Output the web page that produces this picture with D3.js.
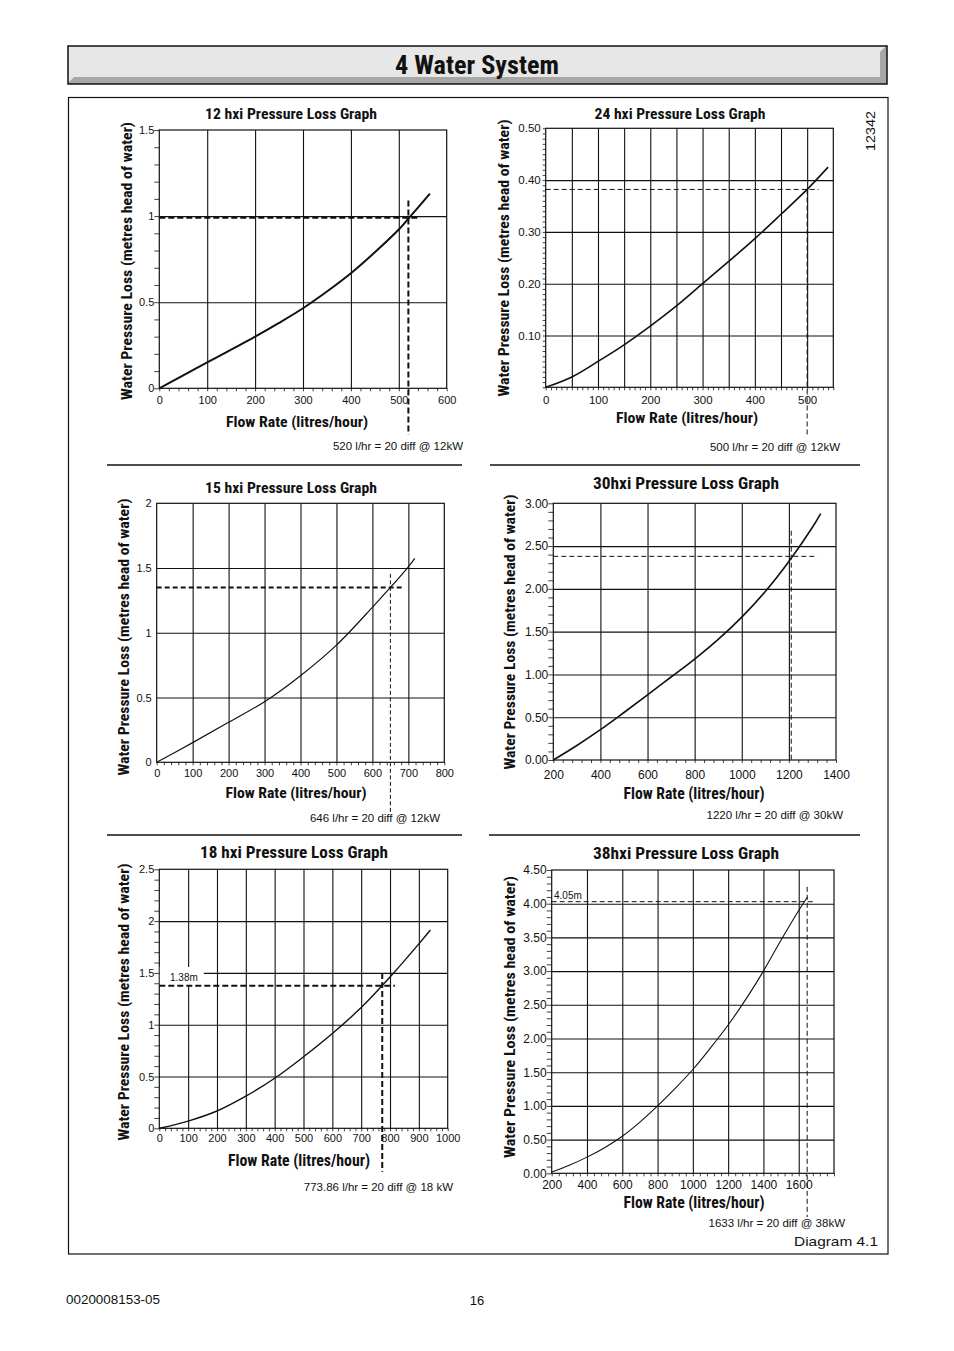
<!DOCTYPE html>
<html><head><meta charset="utf-8">
<script src="https://cdn.jsdelivr.net/npm/d3@7"></script>
<style>body{margin:0;background:#fff} svg{display:block}</style>
</head><body>
<svg id="c" width="954" height="1351"></svg>
<script>
// ---------- DATA ----------
const flow12 = [0, 50, 100, 150, 200, 250, 300, 350, 400, 450, 500, 520, 565];
const loss12 = [0, 0.075, 0.15, 0.225, 0.30, 0.38, 0.465, 0.562, 0.668, 0.79, 0.922, 0.985, 1.13];

const flow24 = [0, 50, 100, 150, 200, 250, 300, 350, 400, 450, 500, 540];
const loss24 = [0, 0.02, 0.05, 0.082, 0.118, 0.157, 0.2, 0.243, 0.287, 0.334, 0.382, 0.425];

const flow15 = [0, 100, 200, 300, 400, 500, 600, 650, 700, 718];
const loss15 = [0, 0.152, 0.309, 0.468, 0.669, 0.905, 1.197, 1.35, 1.51, 1.575];

const flow30 = [200, 300, 400, 500, 600, 700, 800, 900, 1000, 1100, 1200, 1300, 1335];
const loss30 = [0, 0.17, 0.355, 0.555, 0.76, 0.97, 1.18, 1.41, 1.67, 1.97, 2.32, 2.72, 2.88];

const flow18 = [0, 100, 200, 300, 400, 500, 600, 700, 800, 900, 940];
const loss18 = [0, 0.07, 0.167, 0.31, 0.483, 0.69, 0.915, 1.165, 1.46, 1.78, 1.914];

const flow38 = [200, 300, 400, 500, 600, 700, 800, 900, 1000, 1100, 1200, 1300, 1400, 1500, 1600, 1650];
const loss38 = [0.02, 0.12, 0.24, 0.38, 0.55, 0.76, 1.0, 1.26, 1.54, 1.86, 2.2, 2.58, 3.0, 3.46, 3.9, 4.1];

// tick labels
const xTicks12 = [0, 100, 200, 300, 400, 500, 600];
const yTicks12 = [0, 0.5, 1, 1.5];
const yLabels12 = ["0", "0.5", "1", "1.5"];

const xTicks24 = [0, 100, 200, 300, 400, 500];
const yTicks24 = [0.1, 0.2, 0.3, 0.4, 0.5];
const yLabels24 = ["0.10", "0.20", "0.30", "0.40", "0.50"];

const xTicks15 = [0, 100, 200, 300, 400, 500, 600, 700, 800];
const yTicks15 = [0, 0.5, 1, 1.5, 2];
const yLabels15 = ["0", "0.5", "1", "1.5", "2"];

const xTicks30 = [200, 400, 600, 800, 1000, 1200, 1400];
const yTicks30 = [0, 0.5, 1, 1.5, 2, 2.5, 3];
const yLabels30 = ["0.00", "0.50", "1.00", "1.50", "2.00", "2.50", "3.00"];

const xTicks18 = [0, 100, 200, 300, 400, 500, 600, 700, 800, 900, 1000];
const yTicks18 = [0, 0.5, 1, 1.5, 2, 2.5];
const yLabels18 = ["0", "0.5", "1", "1.5", "2", "2.5"];

const xTicks38 = [200, 400, 600, 800, 1000, 1200, 1400, 1600];
const yTicks38 = [0, 0.5, 1, 1.5, 2, 2.5, 3, 3.5, 4, 4.5];
const yLabels38 = ["0.00", "0.50", "1.00", "1.50", "2.00", "2.50", "3.00", "3.50", "4.00", "4.50"];

// design points [flow, loss]
const design12 = [520, 0.99];
const design24 = [500, 0.382];
const design15 = [650, 1.35];
const design30 = [1210, 2.38];
const design18 = [773, 1.377];
const design38 = [1648, 4.03];

const titles = ["12 hxi Pressure Loss Graph", "24 hxi Pressure Loss Graph", "15 hxi Pressure Loss Graph",
                "30hxi Pressure Loss Graph", "18 hxi Pressure Loss Graph", "38hxi Pressure Loss Graph"];
const notes = ["520 l/hr = 20 diff @ 12kW", "500 l/hr = 20 diff @ 12kW", "646 l/hr = 20 diff @ 12kW",
               "1220 l/hr = 20 diff @ 30kW", "773.86 l/hr = 20 diff @ 18 kW", "1633 l/hr = 20 diff @ 38kW"];

// ---------- RENDER ----------
const COND = "'Liberation Sans Narrow','Roboto Condensed','DejaVu Sans Condensed','Liberation Sans',Arial,sans-serif";
const REG = "'Liberation Sans',Arial,Helvetica,sans-serif";
const svg = d3.select("#c");

function txt(g, s, x, y, o = {}) {
  const t = g.append("text").attr("x", x).attr("y", y).text(s)
    .attr("font-family", o.family || REG).attr("font-size", o.size || 11)
    .attr("font-weight", o.weight || "normal").attr("fill", "#111")
    .attr("text-anchor", o.anchor || "middle").attr("dominant-baseline", "central");
  if (o.len) t.attr("textLength", o.len).attr("lengthAdjust", "spacingAndGlyphs");
  if (o.rot) t.attr("transform", `rotate(${o.rot},${x},${y})`);
  return t;
}

// header
const hdr = svg.append("g");
hdr.append("rect").attr("x", 68).attr("y", 46).attr("width", 819).attr("height", 38).attr("fill", "#a7a7a7");
hdr.append("polygon").attr("points", "68,46 886,46 880,52 880,77 74,77 68,83").attr("fill", "#e7e7e7");
hdr.append("rect").attr("x", 68).attr("y", 46).attr("width", 819).attr("height", 38)
  .attr("fill", "none").attr("stroke", "#111").attr("stroke-width", 1.5);
txt(hdr, "4 Water System", 477, 65, {size: 25, weight: "bold", family: COND, len: 164});

// outer box
svg.append("rect").attr("x", 68.5).attr("y", 97.5).attr("width", 819.5).attr("height", 1156.5)
  .attr("fill", "none").attr("stroke", "#111").attr("stroke-width", 1.2);

// separators
[[107, 462, 465], [490, 860, 465], [107, 462, 835], [489, 860, 835]].forEach(([a, b, yy]) =>
  svg.append("line").attr("x1", a).attr("x2", b).attr("y1", yy).attr("y2", yy)
    .attr("stroke", "#111").attr("stroke-width", 1.5));

const panels = [
  {flow: flow12, loss: loss12, xDom: [0, 600], yDom: [0, 1.5], box: [159.3, 130, 446.7, 388.3],
   xGrid: d3.range(100, 600, 100), yGrid: [0.5, 1], xMinor: d3.range(0, 601, 20), yMinor: d3.range(0, 1.51, 0.1),
   xTicks: xTicks12, xLabels: xTicks12.map(String), yTicks: yTicks12, yLabels: yLabels12, tickSize: 11, xLabOff: 12,
   title: [291, 114, 15.5, 172], xl: [297, 422, 15.5, 142], yl: [126.5, 261, 14, 278],
   note: [463, 445.5], curveW: 2, dh: {from: 0, to: 545, w: 2, dash: "6,3"}, dv: {top: 1.09, bottom: -0.27, w: 2, dash: "6,3"}, design: design12},
  {flow: flow24, loss: loss24, xDom: [0, 550], yDom: [0, 0.5], box: [545.7, 128.3, 833.3, 387.3],
   xGrid: d3.range(50, 550, 50), yGrid: [0.1, 0.2, 0.3, 0.4], xMinor: d3.range(0, 551, 10), yMinor: d3.range(0, 0.501, 0.01),
   xTicks: xTicks24, xLabels: xTicks24.map(String), yTicks: yTicks24, yLabels: yLabels24, tickSize: 11.5, xLabOff: 12.5,
   title: [680, 114, 15.5, 171], xl: [687, 418, 15.5, 142], yl: [504, 258, 14, 277],
   note: [840, 447], curveW: 1.6, dh: {from: 0, to: 522, w: 1, dash: "5,3"}, dv: {top: 0.382, bottom: -0.095, w: 1, dash: "5,3"}, design: design24},
  {flow: flow15, loss: loss15, xDom: [0, 800], yDom: [0, 2], box: [156.7, 503.3, 444.3, 762.3],
   xGrid: d3.range(100, 800, 100), yGrid: [0.5, 1, 1.5], xMinor: d3.range(0, 801, 20), yMinor: null,
   xTicks: xTicks15, xLabels: xTicks15.map(String), yTicks: yTicks15, yLabels: yLabels15, tickSize: 11, xLabOff: 11,
   title: [291, 488, 15.5, 172], xl: [296, 793, 15.5, 141], yl: [124, 637, 14, 277],
   note: [440, 818], curveW: 1.2, dh: {from: 0, to: 690, w: 2, dash: "5,3"}, dv: {top: 1.455, bottom: -0.384, w: 1, dash: "4,2.5"}, design: design15},
  {flow: flow30, loss: loss30, xDom: [200, 1400], yDom: [0, 3], box: [553.3, 503.3, 836, 760],
   xGrid: d3.range(400, 1400, 200), yGrid: [0.5, 1, 1.5, 2, 2.5], xMinor: d3.range(200, 1401, 40), yMinor: d3.range(0, 3.01, 0.1),
   xTicks: xTicks30, xLabels: xTicks30.map(String), yTicks: yTicks30, yLabels: yLabels30, tickSize: 12, xLabOff: 15,
   title: [686, 483, 17, 186], xl: [694, 793, 16, 141], yl: [510, 632, 14, 275],
   note: [843, 815], curveW: 1.6, dh: {from: 200, to: 1321, w: 1, dash: "5,3"}, dv: {top: 2.68, bottom: 0, w: 1, dash: "5,3"}, design: design30},
  {flow: flow18, loss: loss18, xDom: [0, 1000], yDom: [0, 2.5], box: [159.3, 869.3, 447.7, 1128.3],
   xGrid: d3.range(100, 1000, 100), yGrid: [0.5, 1, 1.5, 2], xMinor: d3.range(0, 1001, 20), yMinor: d3.range(0, 2.51, 0.1),
   xTicks: xTicks18, xLabels: xTicks18.map(String), yTicks: yTicks18, yLabels: yLabels18, tickSize: 11, xLabOff: 10,
   title: [294, 852, 17, 188], xl: [299, 1160, 16, 142], yl: [124, 1002, 14, 277],
   note: [453, 1187], curveW: 1.4, dh: {from: 0, to: 817, w: 2, dash: "6,3"}, dv: {top: 1.5, bottom: -0.42, w: 2, dash: "6,3"}, design: design18,
   tag: {s: "1.38m", x: 170, y: 977, bg: [159.8, 967, 44, 18]}},
  {flow: flow38, loss: loss38, xDom: [200, 1800], yDom: [0, 4.5], box: [551.7, 870, 834, 1173.3],
   xGrid: d3.range(400, 1800, 200), yGrid: d3.range(0.5, 4.5, 0.5), xMinor: d3.range(200, 1801, 40), yMinor: d3.range(0, 4.51, 0.1),
   xTicks: xTicks38, xLabels: xTicks38.map(String), yTicks: yTicks38, yLabels: yLabels38, tickSize: 12, xLabOff: 11.5,
   title: [686, 853, 17, 186], xl: [694, 1202, 16, 141], yl: [510, 1017, 14, 282],
   note: [845, 1223], curveW: 1.1, dh: {from: 200, to: 1688, w: 1, dash: "5,3"}, dv: {top: 4.25, bottom: -0.65, w: 1, dash: "5,3"}, design: design38,
   tag: {s: "4.05m", x: 554, y: 895, bg: null}}
];

panels.forEach((p, i) => {
  const g = svg.append("g");
  const [bx0, by0, bx1, by1] = p.box;
  const x = d3.scaleLinear().domain(p.xDom).range([bx0, bx1]);
  const y = d3.scaleLinear().domain(p.yDom).range([by1, by0]);
  const clean = s => s.select(".domain").remove();

  // grid
  g.append("g").attr("transform", `translate(0,${by1})`)
    .call(d3.axisBottom(x).tickValues(p.xGrid).tickSize(-(by1 - by0)).tickFormat(""))
    .call(clean).selectAll("line").attr("stroke", "#111").attr("stroke-width", 1.1);
  g.append("g").attr("transform", `translate(${bx0},0)`)
    .call(d3.axisLeft(y).tickValues(p.yGrid).tickSize(-(bx1 - bx0)).tickFormat(""))
    .call(clean).selectAll("line").attr("stroke", "#111").attr("stroke-width", 1.1);

  // minor ticks
  if (p.xMinor) g.append("g").attr("transform", `translate(0,${by1})`)
    .call(d3.axisBottom(x).tickValues(p.xMinor).tickSize(3).tickFormat(""))
    .call(clean).selectAll("line").attr("stroke", "#111").attr("stroke-width", 0.8);
  if (p.yMinor) g.append("g").attr("transform", `translate(${bx0},0)`)
    .call(d3.axisLeft(y).tickValues(p.yMinor).tickSize(i === 1 ? 3 : 5).tickFormat(""))
    .call(clean).selectAll("line").attr("stroke", "#111").attr("stroke-width", 0.8);

  // frame
  g.append("rect").attr("x", bx0).attr("y", by0).attr("width", bx1 - bx0).attr("height", by1 - by0)
    .attr("fill", "none").attr("stroke", "#111").attr("stroke-width", 1.2);

  // tick labels
  const fs = p.tickSize;
  const ax = g.append("g").attr("transform", `translate(0,${by1})`)
    .call(d3.axisBottom(x).tickValues(p.xTicks).tickSize(0).tickPadding(p.xLabOff - 0.36 * fs)
      .tickFormat((d, k) => p.xLabels[k])).call(clean);
  ax.selectAll("text").attr("font-family", REG).attr("font-size", fs).attr("fill", "#111");
  const ay = g.append("g").attr("transform", `translate(${bx0},0)`)
    .call(d3.axisLeft(y).tickValues(p.yTicks).tickSize(0).tickPadding(5)
      .tickFormat((d, k) => p.yLabels[k])).call(clean);
  ay.selectAll("text").attr("font-family", REG).attr("font-size", fs).attr("fill", "#111");

  // label background tag
  if (p.tag && p.tag.bg) g.append("rect").attr("x", p.tag.bg[0]).attr("y", p.tag.bg[1])
    .attr("width", p.tag.bg[2]).attr("height", p.tag.bg[3]).attr("fill", "#fff");

  // curve
  const line = d3.line().x(d => x(d[0])).y(d => y(d[1])).curve(d3.curveCatmullRom.alpha(0.5));
  g.append("path").datum(d3.zip(p.flow, p.loss)).attr("d", line)
    .attr("fill", "none").attr("stroke", "#111").attr("stroke-width", p.curveW);

  // design dashed lines
  const [dx, dy] = p.design;
  g.append("line").attr("x1", x(p.dh.from)).attr("x2", x(p.dh.to)).attr("y1", y(dy)).attr("y2", y(dy))
    .attr("stroke", "#111").attr("stroke-width", p.dh.w).attr("stroke-dasharray", p.dh.dash);
  g.append("line").attr("x1", x(dx)).attr("x2", x(dx)).attr("y1", y(p.dv.top)).attr("y2", y(p.dv.bottom))
    .attr("stroke", "#111").attr("stroke-width", p.dv.w).attr("stroke-dasharray", p.dv.dash);

  if (p.tag) txt(g, p.tag.s, p.tag.x, p.tag.y, {size: 10, anchor: "start"});

  // titles
  txt(g, titles[i], p.title[0], p.title[1], {size: p.title[2], weight: "bold", family: COND, len: p.title[3]});
  txt(g, "Flow Rate (litres/hour)", p.xl[0], p.xl[1], {size: p.xl[2], weight: "bold", family: COND, len: p.xl[3]});
  txt(g, "Water Pressure Loss (metres head of water)", p.yl[0], p.yl[1],
      {size: p.yl[2], weight: "bold", family: COND, len: p.yl[3], rot: -90});
  txt(g, notes[i], p.note[0], p.note[1], {size: 11.5, anchor: "end"});
});

// misc texts
txt(svg, "12342", 870, 131, {size: 13, rot: -90, len: 40});
txt(svg, "Diagram 4.1", 878, 1241, {size: 13.5, anchor: "end", len: 84});
txt(svg, "0020008153-05", 66, 1300, {size: 12, anchor: "start", len: 94});
txt(svg, "16", 477, 1300, {size: 13});
</script>
</body></html>
